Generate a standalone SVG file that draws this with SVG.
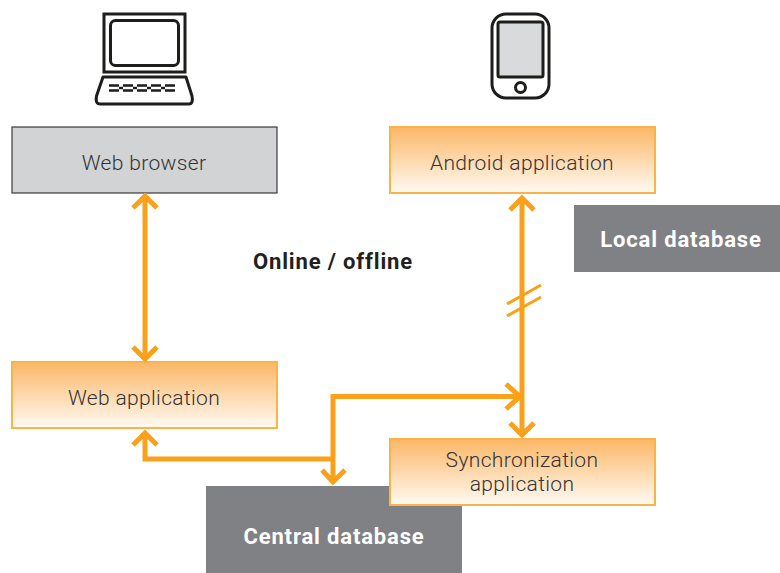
<svg xmlns="http://www.w3.org/2000/svg" width="780" height="573" viewBox="0 0 780 573">
<style>
text{font-family:"Roboto","Liberation Sans",sans-serif;text-anchor:middle}
.lbl{font-size:21px;fill:#333335;font-weight:300;letter-spacing:.35px}
.db{font-size:22px;fill:#fff;font-weight:700;letter-spacing:.85px}
.box{fill:url(#g);stroke:#f9b348;stroke-width:2}
.conn{fill:none;stroke:#f9a11b;stroke-width:5}
.tick{fill:none;stroke:#f9a11b;stroke-width:3}
.icon{fill:none;stroke:#1d1d1b;stroke-width:3}
</style>
<defs>
<linearGradient id="g" x1="0" y1="0" x2="0" y2="1"><stop offset="0" stop-color="#fbb766"/><stop offset="1" stop-color="#fffaf3"/></linearGradient>
</defs>
<rect width="780" height="573" fill="#fff"/>
<g id="laptop-icon">
<rect x="104" y="14" width="81" height="58" class="icon"/>
<rect x="110.500" y="20.500" width="68" height="45" rx="5" class="icon"/>
<path d="M103 77H186L192 96Q193.500 104 189 104H100Q95 104 96.500 96Z" class="icon" stroke-linejoin="round"/>
<path d="M109 85.500H179M109 90.500H179" fill="none" stroke="#1d1d1b" stroke-width="2.500" stroke-dasharray="10 4"/>
<path d="M119 88H123M133 88H137M147 88H151M161 88H165" fill="none" stroke="#1d1d1b" stroke-width="2.500"/>
</g>
<g id="phone-icon">
<rect x="492" y="14" width="57" height="84" rx="14" class="icon"/>
<rect x="498" y="22" width="45" height="55" rx="2" fill="#d9dadb" stroke="#1d1d1b" stroke-width="3"/>
<circle cx="520.500" cy="87.500" r="5" class="icon"/>
</g>
<g id="central-database">
<rect x="206" y="486" width="256" height="87" fill="#808184"/>
<text x="334" y="544" class="db">Central database</text>
</g>
<g id="local-database">
<rect x="574" y="205" width="206" height="67" fill="#808184"/>
<text x="681" y="247" class="db">Local database</text>
</g>
<g id="web-browser">
<rect x="12" y="127" width="265" height="66" fill="#d1d3d4" stroke="#3a3a3c" stroke-width="1.200"/>
<text x="144" y="170" class="lbl">Web browser</text>
</g>
<g id="android-application">
<rect x="390" y="127" width="265" height="66" class="box"/>
<text x="522" y="170" class="lbl">Android application</text>
</g>
<g id="web-application">
<rect x="12" y="362" width="265" height="66" class="box"/>
<text x="144" y="405" class="lbl">Web application</text>
</g>
<g id="synchronization-application">
<rect x="390" y="439" width="265" height="66" class="box"/>
<text x="522" y="467" class="lbl">Synchronization</text>
<text x="522" y="491" class="lbl">application</text>
</g>
<g id="connectors">
<path class="conn" d="M145 197V357M133 208L145 196L157 208M133 347L145 359L157 347"/>
<path class="conn" d="M522 198V434M510 210L522 198L534 210M510 423L522 435L534 423"/>
<path class="tick" d="M507 304L541 285M507 316L541 297"/>
<path class="conn" d="M145 432V459H333M133 445L145 433L157 445"/>
<path class="conn" d="M333 482V396.500H520M322 470L333 482L345 470M506 384L520 396.500L506 409"/>
</g>
<text x="333" y="269" style="font-size:22px;font-weight:700;fill:#231f20;letter-spacing:.85px">Online / offline</text>
</svg>
